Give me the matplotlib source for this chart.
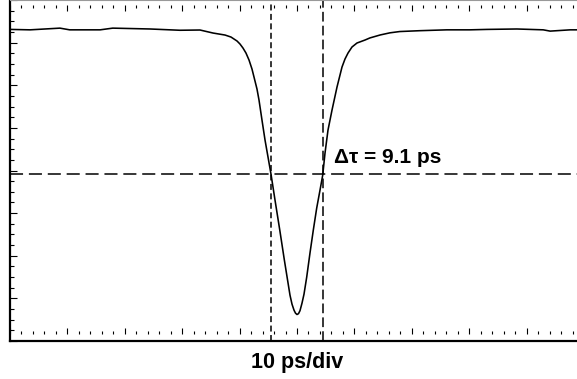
import matplotlib
matplotlib.use("Agg")
import matplotlib.pyplot as plt
from matplotlib.ticker import MultipleLocator, NullFormatter

# Pulse trace: time in ps, amplitude in divisions
time_ps = [0, 3.5, 8.7, 10.4, 15.7, 17.9, 24.4, 29.6, 33.10, 35.37, 37.46,
           38.50, 39.55, 40.07, 40.59, 41.11, 41.64, 42.16, 42.51, 43.03,
           43.38, 43.90, 44.43, 44.95, 45.47, 46.17, 47.00, 47.80, 48.36,
           48.78, 49.13, 49.48, 49.74, 50.00, 50.26, 50.52, 50.87, 51.22,
           51.69, 52.26, 52.84, 53.43, 54.01, 54.48, 54.88, 55.40, 56.10,
           56.97, 57.84, 58.36, 58.89, 59.58, 60.45, 61.85, 62.7, 64.5, 66.2,
           67.9, 71.4, 76.1, 80.1, 83.1, 88.3, 92.9, 94.1, 97.6, 100]
signal = [7.31, 7.30, 7.34, 7.30, 7.30, 7.34, 7.32, 7.29, 7.296, 7.225, 7.178,
          7.131, 7.038, 6.967, 6.873, 6.756, 6.592, 6.380, 6.192, 5.911,
          5.653, 5.183, 4.714, 4.315, 3.915, 3.305, 2.601, 1.897, 1.427,
          1.075, 0.864, 0.723, 0.653, 0.622, 0.641, 0.711, 0.887, 1.099,
          1.498, 2.061, 2.601, 3.117, 3.540, 3.892, 4.408, 4.948, 5.418,
          5.958, 6.427, 6.615, 6.756, 6.897, 6.991, 7.061, 7.11, 7.18, 7.23,
          7.26, 7.28, 7.30, 7.30, 7.31, 7.32, 7.30, 7.27, 7.30, 7.30]

half_level = 3.92      # half-maximum level (divisions)
t_left = 45.45         # left FWHM crossing (ps)
fwhm_ps = 9.1          # pulse width

plt.rcParams['font.family'] = ['Liberation Sans', 'DejaVu Sans']
plt.rcParams['lines.scale_dashes'] = False

W, H = 577, 379
fig = plt.figure(figsize=(W / 100, H / 100), dpi=100)
ax = fig.add_axes([10 / W, (H - 341) / H, 574 / W, 341 / H])

ax.plot(time_ps, signal, color='black', lw=1.15, solid_joinstyle='round')

ax.axhline(half_level, color='black', lw=1.1, linestyle=(0, (9.4, 4.2)))
ax.axvline(t_left, color='black', lw=1.1, linestyle=(0, (4.3, 2.5)))
ax.axvline(t_left + fwhm_ps, color='black', lw=1.1, linestyle=(0, (7.0, 3.0)))

ax.text(56.5, 4.17, 'Δτ = %.1f ps' % fwhm_ps, fontsize=15,
        fontweight='bold', ha='left', va='baseline')

ax.set_xlim(0, 100)
ax.set_ylim(0, 8)

# vertical graticule ticks on the side spines
ax.yaxis.set_major_locator(MultipleLocator(1))
ax.yaxis.set_minor_locator(MultipleLocator(0.25))
ax.tick_params(axis='y', which='both', direction='in', left=True, right=True,
               labelleft=False, width=0.8)
ax.tick_params(axis='y', which='major', length=5)
ax.tick_params(axis='y', which='minor', length=3)
ax.tick_params(axis='x', which='both', bottom=False, top=False,
               labelbottom=False)

# horizontal graticule ticks, drawn a little inside the frame
for loc in [7 / 341, 1 - 5 / 341]:
    sec = ax.secondary_xaxis(loc)
    sec.xaxis.set_major_locator(MultipleLocator(10))
    sec.xaxis.set_minor_locator(MultipleLocator(2))
    sec.xaxis.set_major_formatter(NullFormatter())
    sec.tick_params(which='both', direction='in', width=0.8)
    sec.tick_params(which='major', length=4.3)
    sec.tick_params(which='minor', length=2.5)
    for sp in sec.spines.values():
        sp.set_visible(False)

for side in ['left', 'bottom']:
    ax.spines[side].set_linewidth(1.6)
ax.spines['top'].set_linewidth(0.8)
ax.spines['top'].set_color('#999999')
ax.spines['right'].set_visible(False)

ax.set_xlabel('10 ps/div', fontsize=15.5, fontweight='bold', labelpad=8)

fig.savefig('out.png', dpi=100)
